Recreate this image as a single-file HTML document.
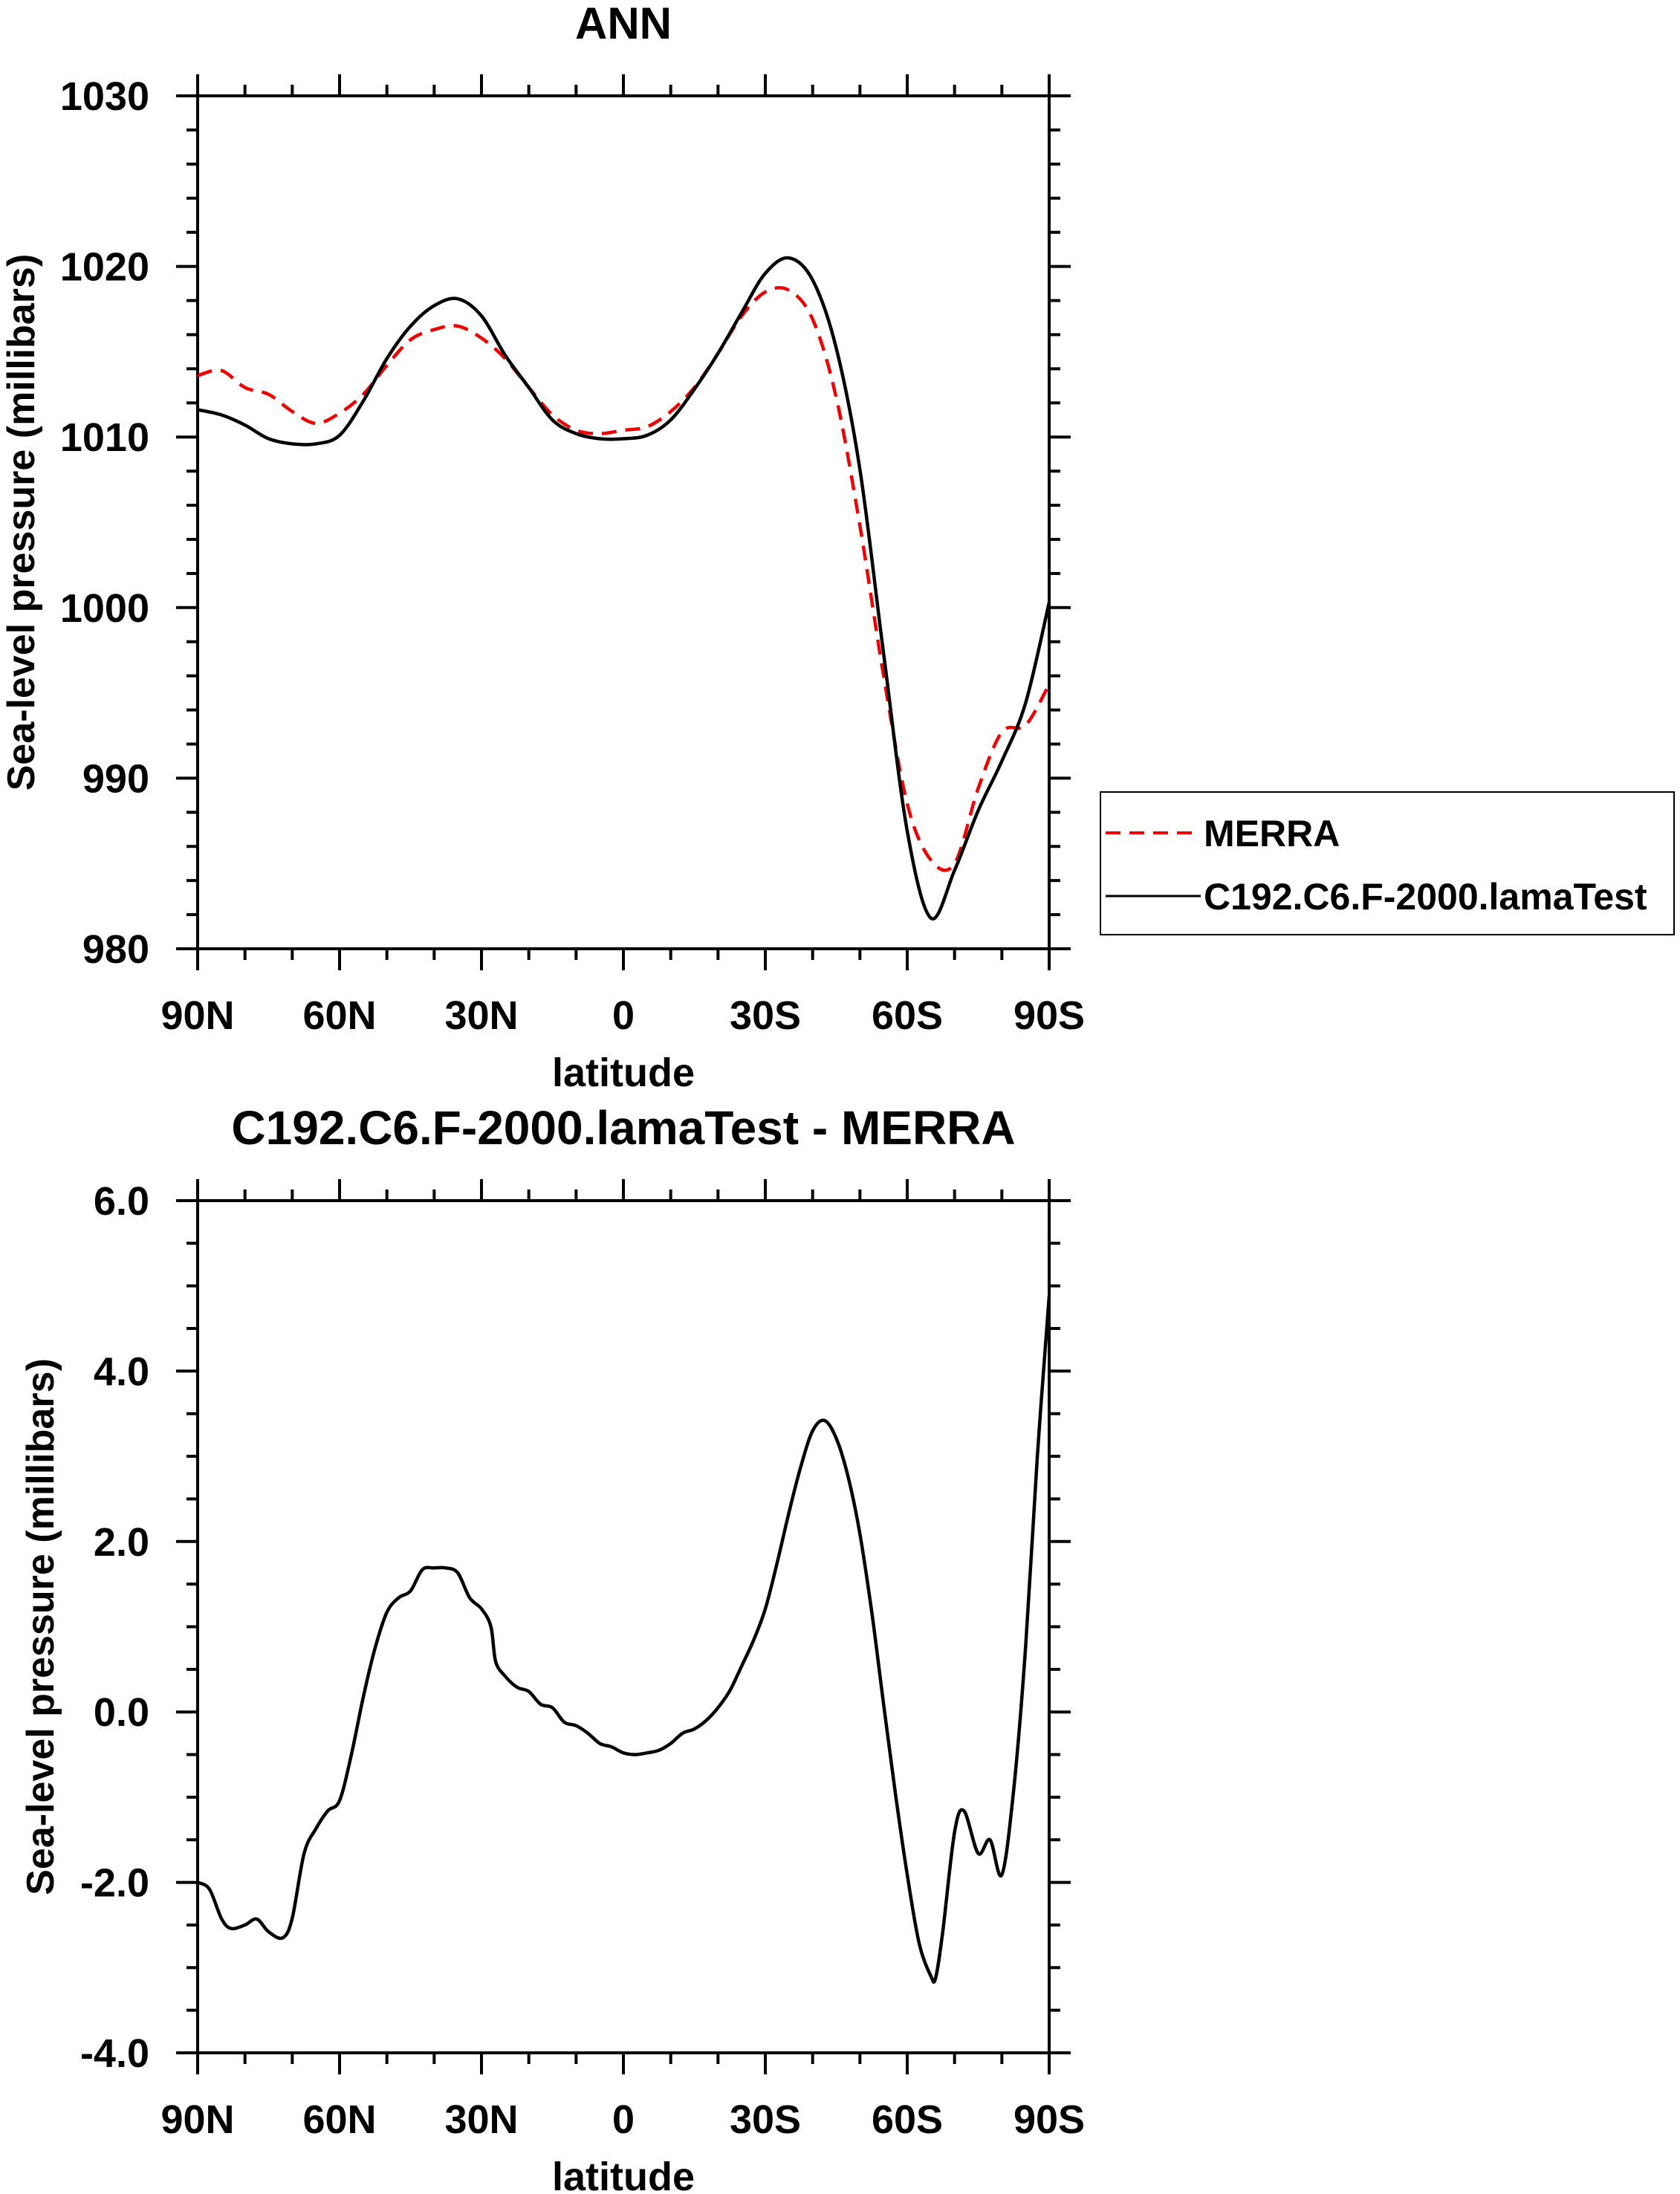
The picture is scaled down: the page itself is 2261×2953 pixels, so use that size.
<!DOCTYPE html>
<html><head><meta charset="utf-8"><style>
html,body{margin:0;padding:0;background:#fff}
svg{display:block}
text{font-family:"Liberation Sans",sans-serif;font-weight:bold;fill:#000}
</style></head><body>
<svg id="svg" width="2261" height="2953" viewBox="0 0 2261 2953" xmlns="http://www.w3.org/2000/svg">
<text x="839" y="52" font-size="60" text-anchor="middle">ANN</text>
<text x="839" y="1540" font-size="64" text-anchor="middle">C192.C6.F-2000.lamaTest - MERRA</text>
<g id="top"></g>
<g id="bot"></g>
<g>
<rect x="1481" y="1066" width="772" height="192" fill="none" stroke="#000" stroke-width="2"/>
<line x1="1488" y1="1121" x2="1616" y2="1121" stroke="#e00" stroke-width="4" stroke-dasharray="20,12"/>
<text x="1620" y="1139" font-size="50">MERRA</text>
<line x1="1488" y1="1206" x2="1616" y2="1206" stroke="#000" stroke-width="3"/>
<text x="1620" y="1224" font-size="50">C192.C6.F-2000.lamaTest</text>
</g>
</svg>
<script>
const latsTop = [90,85,80,75,70,65,60,55,50,45,40,35,30,25,20,15,10,5,0,-5,-10,-15,-20,-25,-30,-35,-40,-45,-50,-55,-60,-65,-70,-75,-80,-85,-90];
const modelSLP = [1011.6,1011.3,1010.7,1009.9,1009.6,1009.6,1010.1,1012.1,1014.6,1016.5,1017.7,1018.1,1017.1,1014.8,1012.9,1011.0,1010.2,1009.9,1009.9,1010.1,1011.0,1012.8,1014.9,1017.3,1019.6,1020.5,1019.2,1015.2,1008.1,997.3,986.9,981.8,984.6,988.1,991.0,994.4,1000.3];
const merraSLP = [1013.6,1013.9,1012.9,1012.5,1011.5,1010.8,1011.4,1012.5,1014.2,1015.7,1016.3,1016.5,1015.8,1014.6,1012.9,1011.3,1010.4,1010.2,1010.4,1010.6,1011.5,1012.9,1014.9,1017.1,1018.5,1018.6,1016.9,1012.3,1004.8,996.0,988.5,985.2,985.0,989.4,992.7,993.1,995.5];
const latsDiff = [90,87.5,85,83,80,77.5,75,72,70,67.5,65,62.5,60,57.5,55,52.5,50,47.5,45,42.5,40,37.5,35,32.5,30,28,27,25,22.5,20,17.5,15,12.5,10,7.5,5,2.5,0,-2.5,-5,-7.5,-10,-12.5,-15,-17.5,-20,-22.5,-25,-27.5,-30,-32.5,-35,-37.5,-40,-42.5,-45,-47.5,-50,-52.5,-55,-57.5,-60,-62.5,-65,-66,-67.5,-70,-72,-75,-77.5,-80,-82.5,-85,-87.5,-90];
const diffSLP = [-2.0,-2.08,-2.42,-2.54,-2.5,-2.43,-2.58,-2.65,-2.42,-1.66,-1.37,-1.16,-1.04,-0.5,0.17,0.75,1.17,1.34,1.42,1.67,1.69,1.69,1.63,1.34,1.21,1.0,0.59,0.42,0.29,0.24,0.09,0.05,-0.12,-0.16,-0.25,-0.37,-0.41,-0.48,-0.5,-0.48,-0.45,-0.37,-0.25,-0.2,-0.1,0.05,0.25,0.54,0.84,1.21,1.75,2.34,2.88,3.3,3.42,3.21,2.76,2.09,1.17,0.09,-0.96,-1.91,-2.71,-3.1,-3.12,-2.58,-1.41,-1.16,-1.66,-1.5,-1.91,-0.91,0.75,3.0,4.88];
const xTickLabels = ["90N","60N","30N","0","30S","60S","90S"];
const topYTicks = ["980","990","1000","1010","1020","1030"];
const botYTicks = ["-4.0","-2.0","0.0","2.0","4.0","6.0"];

const NS="http://www.w3.org/2000/svg";
const L=266,R=1412;
function xs(lat){return L+(90-lat)/180*(R-L);}
function mk(parent,tag,attrs){const e=document.createElementNS(NS,tag);for(const k in attrs)e.setAttribute(k,attrs[k]);parent.appendChild(e);return e;}
function smooth(pts){
  let d='M'+pts[0][0].toFixed(1)+','+pts[0][1].toFixed(1);
  for(let i=0;i<pts.length-1;i++){
    const p0=pts[Math.max(0,i-1)],p1=pts[i],p2=pts[i+1],p3=pts[Math.min(pts.length-1,i+2)];
    const c1=[p1[0]+(p2[0]-p0[0])/6,p1[1]+(p2[1]-p0[1])/6];
    const c2=[p2[0]-(p3[0]-p1[0])/6,p2[1]-(p3[1]-p1[1])/6];
    d+=' C'+c1[0].toFixed(1)+','+c1[1].toFixed(1)+' '+c2[0].toFixed(1)+','+c2[1].toFixed(1)+' '+p2[0].toFixed(1)+','+p2[1].toFixed(1);
  }
  return d;
}

function panel(g,T,B,ymin,ymax,yLabels,minorStep,xLabY,ylabX,series){
  const ys=v=>B-(v-ymin)/(ymax-ymin)*(B-T);
  const frame=mk(g,'rect',{x:L,y:T,width:R-L,height:B-T,fill:'none',stroke:'#000','stroke-width':4});
  
  
  for(let lat=90;lat>=-90;lat-=10){
    const major=(lat%30===0);const len=major?29:15;const x=xs(lat);
    const t1=mk(g,'line',{x1:x,y1:B,x2:x,y2:B+len,stroke:'#000','stroke-width':4});
    
    
    const t2=mk(g,'line',{x1:x,y1:T,x2:x,y2:T-len,stroke:'#000','stroke-width':4});
    
    
  }
  xTickLabels.forEach((s,i)=>{
    const t=mk(g,'text',{x:xs(90-30*i),y:xLabY,'font-size':54,'text-anchor':'middle'});t.textContent=s;
    
    
  });
  const xt=mk(g,'text',{x:839,y:xLabY+77,'font-size':54,'text-anchor':'middle'});xt.textContent='latitude';
  
  
  const n=Math.round((ymax-ymin)/minorStep);
  const majEvery=Math.round(((ymax-ymin)/(yLabels.length-1))/minorStep);
  for(let i=0;i<=n;i++){
    const y=ys(ymin+i*minorStep);const len=(i%majEvery===0)?29:15;
    const a=mk(g,'line',{x1:L,y1:y,x2:L-len,y2:y,stroke:'#000','stroke-width':4});
    
    
    const b=mk(g,'line',{x1:R,y1:y,x2:R+len,y2:y,stroke:'#000','stroke-width':4});
    
    
  }
  yLabels.forEach((s,i)=>{
    const v=ymin+i*(ymax-ymin)/(yLabels.length-1);
    const t=mk(g,'text',{x:201,y:ys(v)+19,'font-size':54,'text-anchor':'end'});t.textContent=s;
    
    
  });
  const yt=mk(g,'text',{x:0,y:0,'font-size':52,'text-anchor':'middle',transform:`translate(${ylabX},${(T+B)/2}) rotate(-90)`});
  yt.textContent='Sea-level pressure (millibars)';
  
  
  series.forEach(s=>{
    const pts=s.lats.map((lat,i)=>[xs(lat),ys(s.vals[i])]);
    const p=mk(g,'path',{d:smooth(pts),fill:'none',stroke:s.color,'stroke-width':4.5,'stroke-linejoin':'round'});
    if(s.dash)p.setAttribute('stroke-dasharray',s.dash);
    
    
  });
}
panel(document.getElementById('top'),129,1277,980,1030,topYTicks,2,1385,46,[
  {lats:latsTop,vals:merraSLP,color:'#e00',dash:'20,12',name:'merra-line'},
  {lats:latsTop,vals:modelSLP,color:'#000',name:'model-line'}]);
panel(document.getElementById('bot'),1616,2763,-4,6,botYTicks,0.5,2871,72,[
  {lats:latsDiff,vals:diffSLP,color:'#000',name:'difference-line'}]);
</script>
</body></html>
